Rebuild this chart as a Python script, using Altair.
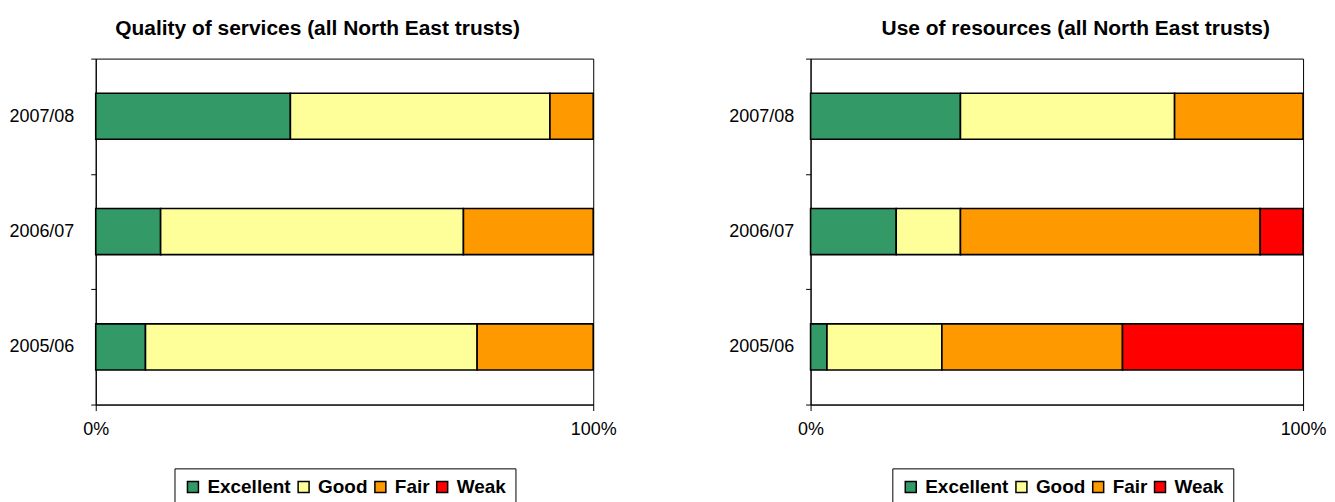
import altair as alt
import pandas as pd

# ---- data (number of trusts per rating) ----
years = ["2005/06", "2006/07", "2007/08"]
ratings = ["Excellent", "Good", "Fair", "Weak"]
rating_colors = ["#339966", "#FFFF99", "#FF9900", "#FF0000"]

quality_excellent = [3, 3, 9]
quality_good = [20, 14, 12]
quality_fair = [7, 6, 2]
quality_weak = [0, 0, 0]

resources_excellent = [1, 4, 7]
resources_good = [7, 3, 10]
resources_fair = [11, 14, 6]
resources_weak = [11, 2, 0]

title_quality = "Quality of services (all North East trusts)"
title_resources = "Use of resources (all North East trusts)"

FONT = "Liberation Sans"


def build_frame(series):
    rows = []
    for r_idx, (rating, vals) in enumerate(zip(ratings, series)):
        for year, v in zip(years, vals):
            rows.append({"year": year, "rating": rating, "value": v, "idx": r_idx})
    return pd.DataFrame(rows)


df_quality = build_frame([quality_excellent, quality_good, quality_fair, quality_weak])
df_resources = build_frame([resources_excellent, resources_good, resources_fair, resources_weak])


def panel(df, title, title_dx, legend_x, width, ylabel_pad):
    return (
        alt.Chart(df)
        .transform_filter("datum.value > 0")
        .mark_bar(stroke="black", strokeWidth=1.6, height={"band": 0.4})
        .encode(
            x=alt.X(
                "value:Q",
                stack="normalize",
                scale=alt.Scale(domain=[0, 1], nice=False),
                axis=alt.Axis(
                    values=[0, 1], format="%", title=None, grid=False,
                    tickSize=6, labelPadding=10, labelFlush=False,
                ),
            ),
            y=alt.Y(
                "year:N",
                sort=years[::-1],
                scale=alt.Scale(paddingInner=0, paddingOuter=0),
                axis=alt.Axis(title=None, tickBand="extent", tickSize=5,
                              labelPadding=ylabel_pad),
            ),
            color=alt.Color(
                "rating:N",
                scale=alt.Scale(domain=ratings, range=rating_colors),
                legend=alt.Legend(
                    title=None,
                    orient="none",
                    legendX=legend_x,
                    legendY=411,
                    direction="horizontal",
                    symbolType="square",
                    symbolSize=121,
                    symbolStrokeColor="black",
                    symbolStrokeWidth=1.5,
                    symbolOpacity=1,
                    labelFont=FONT,
                    labelFontSize=19,
                    labelFontWeight="bold",
                    labelColor="black",
                    labelOffset=5,
                    columnPadding=3,
                    strokeColor="black",
                    fillColor="white",
                    padding=9,
                    labelLimit=300,
                ),
            ),
            order=alt.Order("idx:Q"),
        )
        .properties(
            width=width,
            height=347,
            title=alt.TitleParams(
                title, dx=title_dx, anchor="middle", font=FONT, fontSize=21,
                fontWeight="bold", color="black", offset=11,
            ),
        )
    )


left = panel(df_quality, title_quality, -27, 79, 499, 17)
right = panel(df_resources, title_resources, 19, 82, 494, 12)

chart = (
    alt.hconcat(left, right, spacing=111)
    .resolve_legend(color="independent")
    .properties(padding={"left": 0, "top": 8, "right": 0, "bottom": 0})
    .configure_view(stroke="black", strokeWidth=1)
    .configure_axis(
        labelFont=FONT, labelFontSize=18, labelColor="black",
        domainColor="black", tickColor="black", domainWidth=1, tickWidth=1,
    )
)

chart.save("out.html", embed_options={"renderer": "svg", "actions": False})
